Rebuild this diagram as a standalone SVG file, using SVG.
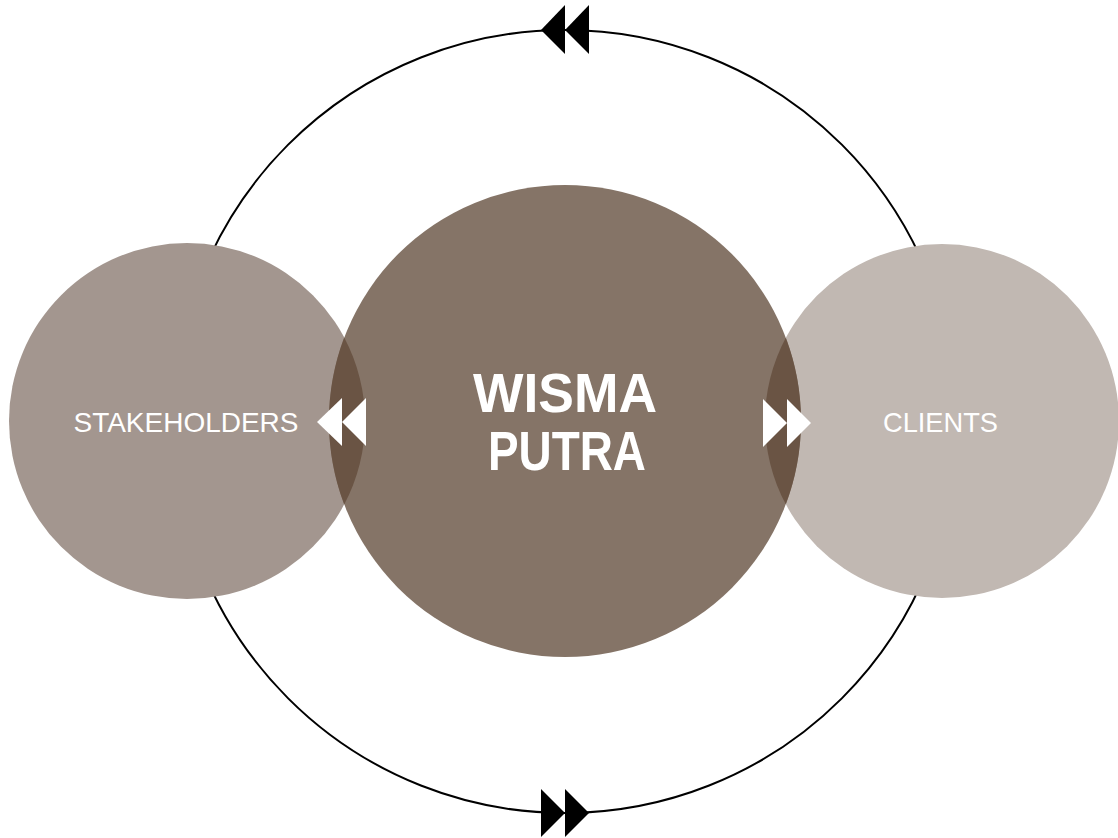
<svg xmlns="http://www.w3.org/2000/svg" width="1118" height="838" viewBox="0 0 1118 838">
<style>
.lbl{font-family:"Liberation Sans",Arial,sans-serif;fill:#ffffff;text-anchor:middle}
.big{font-weight:bold;font-size:55px}
.small{font-size:28px}
.arrB{fill:#000000}
.arrW{fill:#ffffff}
.lens{fill:#6a5444}
</style>
<rect width="1118" height="838" fill="#ffffff"/>
<g id="connectors">
<circle cx="565" cy="421.5" r="391.5" fill="none" stroke="#000000" stroke-width="2"/>
<polygon class="arrB" points="541,30 565,5 565,54"/>
<polygon class="arrB" points="565,30 589,5 589,54"/>
<polygon class="arrB" points="541,789 565,813 541,837"/>
<polygon class="arrB" points="565,789 589,813 565,837"/>
</g>
<g id="stakeholders">
<circle cx="187" cy="421" r="178" fill="#a3968f"/>
<text class="lbl small" x="186" y="432" textLength="225" lengthAdjust="spacingAndGlyphs">STAKEHOLDERS</text>
</g>
<g id="clients">
<circle cx="942" cy="421" r="177" fill="#c1b8b2"/>
<text class="lbl small" x="940.5" y="432" textLength="115" lengthAdjust="spacingAndGlyphs">CLIENTS</text>
</g>
<g id="wisma-putra">
<circle cx="565" cy="421" r="236" fill="#857467"/>
<path class="lens" d="M344.2,337.5 A178,178 0 0 1 344.2,504.5 A236,236 0 0 1 344.2,337.5 Z"/>
<path class="lens" d="M785.8,337.7 A236,236 0 0 1 785.8,504.3 A177,177 0 0 1 785.8,337.7 Z"/>
<text class="lbl big" x="565" y="412" textLength="184" lengthAdjust="spacingAndGlyphs">WISMA</text>
<text class="lbl big" x="567" y="470" textLength="158" lengthAdjust="spacingAndGlyphs">PUTRA</text>
</g>
<g id="flow-arrows">
<polygon class="arrW" points="317,422 342,398 342,446"/>
<polygon class="arrW" points="342,422 366,398 366,446"/>
<polygon class="arrW" points="763,399 787,423 763,447"/>
<polygon class="arrW" points="787,399 811,423 787,447"/>
</g>
</svg>
